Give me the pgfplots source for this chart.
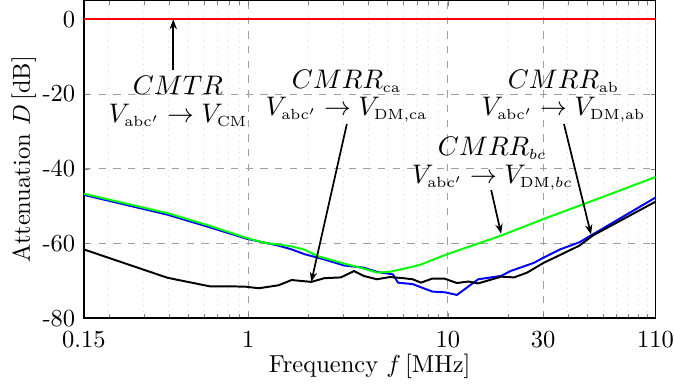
\documentclass[border=0pt]{standalone}
\usepackage{pgfplots}
\pgfplotsset{compat=1.18}
\usetikzlibrary{arrows.meta}
\DeclareMathSizes{10.5}{10.5}{5.8}{5}
\newcommand{\annfont}{\fontsize{10.5}{11.3}\selectfont}
\tikzset{annot/.style={anchor=base, font=\annfont, inner sep=0pt, align=center}}
\begin{document}
\begin{tikzpicture}
\begin{axis}[
  scale only axis,
  width=233.3pt, height=129.5pt,
  xmode=log,
  xmin=0.15, xmax=110,
  ymin=-80, ymax=5,
  xtick={0.15,1,10,30,110},
  xticklabels={0.15,1,10,30,110},
  minor xtick={0.2,0.3,0.4,0.5,0.6,0.7,0.8,0.9,2,3,4,5,6,7,8,9,20,40,50,60,70,80,90,100},
  ytick={-80,-60,-40,-20,0},
  yticklabels={-80,-60,-40,-20,0},
  grid=both,
  major grid style={dashed, gray!75, line width=0.4pt},
  minor grid style={dotted, gray!30, line width=0.4pt},
  tick align=inside,
  major tick length=2pt,
  minor tick length=1.7pt,
  axis line style={line width=0.6pt},
  xticklabel style={yshift=-2pt, inner xsep=0pt},
  xlabel={Frequency $f\,$[MHz]},
  ylabel={Attenuation $D\,$[dB]},
  xlabel style={at={(axis description cs:0.5,-0.1714)}, anchor=base, inner ysep=2.5pt},
  ylabel style={at={(axis description cs:-0.0626,0.5)}, anchor=south, inner ysep=4.7pt},
  clip=true,
]
\addplot[red, line width=0.8pt] coordinates {(0.15,0) (110,0)};
\addplot[blue, line width=0.8pt] coordinates {
(0.15,-47.0) (0.394,-52.3) (0.643,-55.7) (0.974,-58.7) (1.42,-60.6) (1.65,-61.6) (1.92,-62.9) (2.41,-64.3) (3.02,-65.9) (3.79,-66.5) (4.41,-67.6) (5.31,-68.3) (5.63,-70.5) (6.67,-70.9) (8.37,-72.9) (9.73,-73.1) (11.1,-73.8) (14.2,-69.6) (18.5,-68.7) (20.6,-67.4) (27.0,-65.2) (30.2,-63.8) (36.5,-61.6) (45.6,-59.7) (53.2,-57.6) (110,-47.7)
};
\addplot[green, line width=0.8pt] coordinates {
(0.15,-46.7) (0.394,-51.9) (0.643,-55.3) (0.974,-58.5) (1.09,-59.2) (1.22,-59.9) (1.42,-60.3) (1.65,-60.8) (1.92,-61.7) (2.23,-63.4) (3.02,-65.4) (3.65,-66.5) (4.41,-67.8) (5.13,-67.6) (5.96,-66.8) (7.2,-65.8) (9.9,-62.9) (12.7,-60.9) (18.5,-57.9) (30,-53.5) (57.4,-47.9) (110,-42.2)
};
\addplot[black, line width=0.8pt] coordinates {
(0.15,-61.6) (0.394,-69.2) (0.643,-71.5) (0.838,-71.5) (0.974,-71.6) (1.13,-72.0) (1.42,-71.2) (1.65,-69.8) (2.07,-70.3) (2.41,-69.3) (2.91,-69.1) (3.39,-67.4) (3.79,-68.7) (4.41,-69.6) (5.13,-69.0) (5.96,-69.3) (6.67,-69.6) (7.34,-70.5) (8.37,-69.4) (9.6,-69.4) (11.1,-70.6) (12.7,-70.2) (14.2,-70.7) (18.5,-68.9) (21.5,-69.1) (25.0,-67.8) (30.2,-65.2) (36.5,-63.1) (45.6,-60.6) (53.2,-57.9) (110,-48.8)
};
% annotations (node anchored at the baseline of its last line)
\draw[-{Stealth[length=4pt,width=3pt]}, line width=0.7pt] (axis cs:0.421,-13.5) -- (axis cs:0.421,0);
\node[annot] at (axis cs:0.444,-27.6) {$CMTR$\\$V_{\mathrm{abc}'} \rightarrow V_{\mathrm{CM}}$};

\draw[-{Stealth[length=4pt,width=3pt]}, line width=0.7pt] (axis cs:3.12,-28.0) -- (axis cs:2.07,-70.3);
\node[annot] at (axis cs:3.11,-25.8) {$CMRR_{\mathrm{ca}}$\\$V_{\mathrm{abc}'} \rightarrow V_{\mathrm{DM,ca}}$};

\draw[-{Stealth[length=4pt,width=3pt]}, line width=0.7pt] (axis cs:38.2,-28.0) -- (axis cs:52.2,-57.6);
\node[annot] at (axis cs:38.0,-25.8) {$CMRR_{\mathrm{ab}}$\\$V_{\mathrm{abc}'} \rightarrow V_{\mathrm{DM,ab}}$};

\draw[-{Stealth[length=4pt,width=3pt]}, line width=0.7pt] (axis cs:16.5,-45.7) -- (axis cs:18.5,-57.4);
\node[annot] at (axis cs:16.7,-43.9) {$CMRR_{bc}$\\$V_{\mathrm{abc}'} \rightarrow V_{\mathrm{DM},bc}$};
\path (rel axis cs:0,1) ++(0,1.2pt);
\end{axis}
\end{tikzpicture}
\end{document}
